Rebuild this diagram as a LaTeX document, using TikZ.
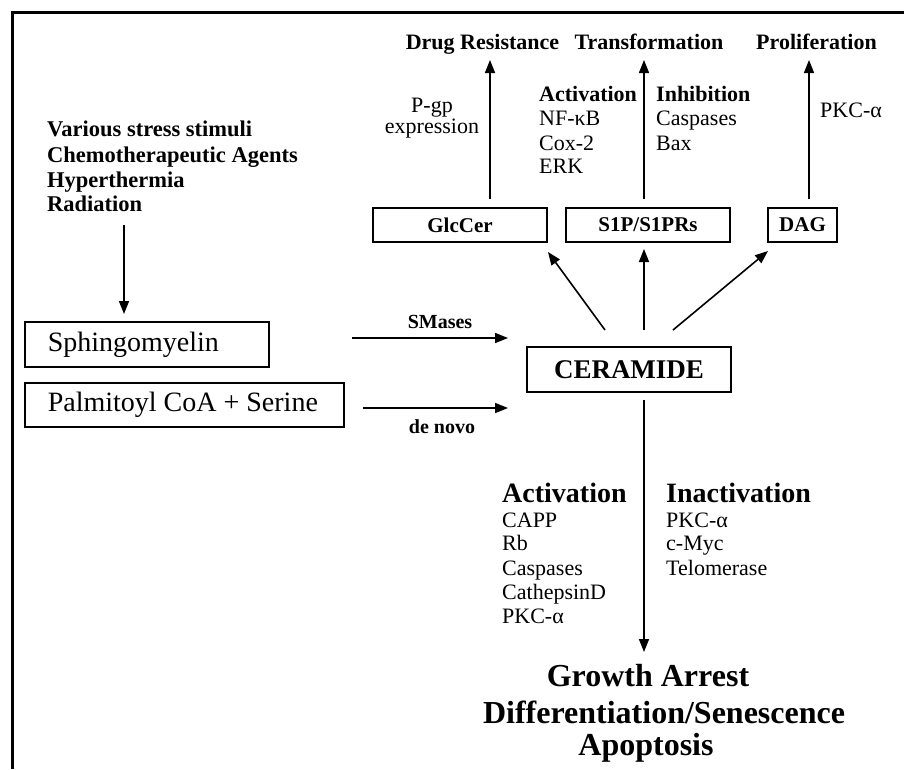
\documentclass[tikz,border=0pt]{standalone}
\usepackage{fontspec}
\setmainfont{Liberation Serif}
\usetikzlibrary{arrows.meta}
\begin{document}
\begin{tikzpicture}[x=1pt,y=-1pt,
  txt/.style={inner sep=0pt, font=\fontsize{22}{24}\selectfont},
  btxt/.style={inner sep=0pt, font=\fontsize{22}{24}\selectfont\bfseries},
  stress/.style={inner sep=0pt, font=\fontsize{22.5}{24}\selectfont\bfseries},
  smalllbl/.style={inner sep=0pt, font=\fontsize{20}{22}\selectfont\bfseries},
  bighead/.style={inner sep=0pt, font=\fontsize{28}{30}\selectfont\bfseries},
  outcome/.style={inner sep=0pt, font=\fontsize{32}{34}\selectfont\bfseries},
  arr/.style={line width=1.6pt, -{Triangle[length=13pt,width=10pt]}},
  box/.style={draw, line width=1.6pt, inner sep=0pt},
  srcbox/.style={box, anchor=north west, inner xsep=23pt, font=\fontsize{28}{30}\selectfont},
  sbox/.style={box, font=\fontsize{21}{23}\selectfont\bfseries, minimum height=34pt},
]
\useasboundingbox (0,0) rectangle (904,769);
\draw[line width=3pt] (12,769) -- (12,12) -- (904,12);

% stress stimuli
\node[stress, anchor=base west] (st1) at (47,136) {Various stress stimuli};
\node[stress, anchor=base west] (st2) at (47,162) {Chemotherapeutic Agents};
\node[stress, anchor=base west] (st3) at (47,187) {Hyperthermia};
\node[stress, anchor=base west] (st4) at (47,211) {Radiation};

% source boxes
\node[srcbox, minimum height=45pt] (sph) at (24,321) {\makebox[198pt][l]{Sphingomyelin}};
\node[srcbox, minimum height=44pt] (pal) at (24,382) {\makebox[273pt][l]{Palmitoyl CoA + Serine}};

\coordinate (stA) at (124,225);
\draw[arr, shorten >=7pt] (stA) -- (stA |- sph.north);

% ceramide
\node[box, minimum width=204pt, minimum height=45pt, font=\fontsize{27}{30}\selectfont\bfseries] (cer) at (629,369.5) {CERAMIDE};

\coordinate (smA) at (352,338);
\coordinate (smB) at (508,338);
\draw[arr] (smA) -- (smB);
\node[smalllbl, anchor=base] (smL) at (440,328) {SMases};

\coordinate (dnA) at (363,408);
\coordinate (dnB) at (508,408);
\draw[arr] (dnA) -- (dnB);
\node[smalllbl, anchor=base] (dnL) at (442,433) {de novo};

% metabolite boxes
\node[sbox, minimum width=174pt] (glc) at (460,225) {GlcCer};
\node[sbox, minimum width=164pt] (s1p) at (648,225) {S1P/S1PRs};
\node[sbox, minimum width=69pt] (dag) at (802.5,225) {DAG};

\coordinate (cL) at (605,330);
\coordinate (cM) at (644,330);
\coordinate (cR) at (673,330);
\coordinate (gT) at (548,252);
\coordinate (sT) at (644,249);
\coordinate (dT) at (768,251);
\draw[arr] (cL) -- (gT);
\draw[arr] (cM) -- (sT);
\draw[arr] (cR) -- (dT);

% outcomes (top)
\node[btxt, anchor=base] (drug) at (482.5,49) {Drug Resistance};
\node[btxt, anchor=base] (trans) at (649,49) {Transformation};
\node[btxt, anchor=base] (prol) at (816.5,49) {Proliferation};

\coordinate (g0) at (490,199);
\coordinate (g1) at (490,60);
\coordinate (s0) at (644,199);
\coordinate (s1) at (644,60);
\coordinate (d0) at (809,199);
\coordinate (d1) at (809,60);
\draw[arr] (g0) -- (g1);
\draw[arr] (s0) -- (s1);
\draw[arr] (d0) -- (d1);

\node[txt, anchor=base] (pgp1) at (432,112) {P-gp};
\node[txt, anchor=base] (pgp2) at (432,133) {expression};

\node[btxt, anchor=base west] (act1) at (539,101) {Activation};
\node[txt, anchor=base west] (act2) at (539,125) {NF-κB};
\node[txt, anchor=base west] (act3) at (539,150) {Cox-2};
\node[txt, anchor=base west] (act4) at (539,173) {ERK};

\node[btxt, anchor=base west] (inh1) at (656,101) {Inhibition};
\node[txt, anchor=base west] (inh2) at (656,125) {Caspases};
\node[txt, anchor=base west] (inh3) at (656,150) {Bax};

\node[txt, anchor=base west] (pkcT) at (820,117) {PKC-α};

% bottom
\coordinate (b0) at (644,400);
\coordinate (b1) at (644,652);
\draw[arr] (b0) -- (b1);

\node[bighead, anchor=base west] (ba1) at (502,502) {Activation};
\node[txt, anchor=base west] (ba2) at (502,527) {CAPP};
\node[txt, anchor=base west] (ba3) at (502,550) {Rb};
\node[txt, anchor=base west] (ba4) at (502,575) {Caspases};
\node[txt, anchor=base west] (ba5) at (502,599) {CathepsinD};
\node[txt, anchor=base west] (ba6) at (502,623) {PKC-α};

\node[bighead, anchor=base west] (bi1) at (666,502) {Inactivation};
\node[txt, anchor=base west] (bi2) at (666,527) {PKC-α};
\node[txt, anchor=base west] (bi3) at (666,550) {c-Myc};
\node[txt, anchor=base west] (bi4) at (666,575) {Telomerase};

\node[outcome, anchor=base] (o1) at (648,686) {Growth Arrest};
\node[outcome, anchor=base] (o2) at (664,723) {Differentiation/Senescence};
\node[outcome, anchor=base] (o3) at (646,755) {Apoptosis};
\end{tikzpicture}
\end{document}
